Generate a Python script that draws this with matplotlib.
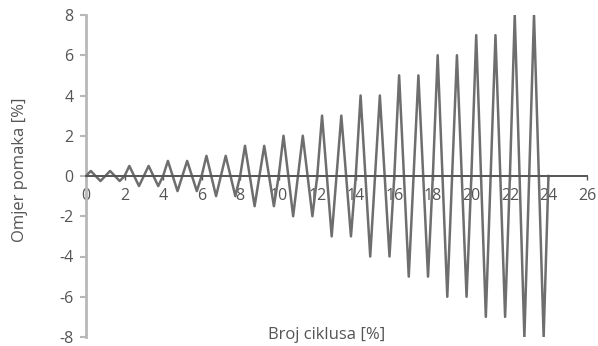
import numpy as np
import matplotlib.pyplot as plt

# amplitude of each loading cycle [%]
cycles = list(range(24))
amplitudes = [0.25, 0.25, 0.5, 0.5, 0.75, 0.75, 1, 1, 1.5, 1.5, 2, 2,
              3, 3, 4, 4, 5, 5, 6, 6, 7, 7, 8, 8]

# triangle wave: 0 -> +A -> -A -> 0 in each cycle
x = [0.0]
y = [0.0]
for c, a in zip(cycles, amplitudes):
    x += [c + 0.25, c + 0.75, c + 1.0]
    y += [a, -a, 0.0]

plt.rcParams['font.family'] = ['Open Sans', 'DejaVu Sans']
plt.rcParams['axes.unicode_minus'] = False
txt = '#555555'

fig = plt.figure(figsize=(5.98, 3.46), dpi=100)
ax = fig.add_axes([86/598, 1 - 337/346, 501/598, 322/346])

ax.plot(x, y, color='#6e6e6e', lw=1.8, zorder=3)

ax.set_xlim(0, 26)
ax.set_ylim(-8, 8)
ax.set_xticks(np.arange(0, 27, 2))
ax.set_yticks(np.arange(-8, 9, 2))

ax.spines['top'].set_visible(False)
ax.spines['right'].set_visible(False)
ax.spines['bottom'].set_position(('data', 0))
ax.spines['bottom'].set_color('#555555')
ax.spines['bottom'].set_linewidth(1.4)
ax.spines['bottom'].set_zorder(4)
ax.spines['left'].set_color('#b8b8b8')
ax.spines['left'].set_linewidth(2.0)

ax.tick_params(axis='y', colors='#b8b8b8', labelcolor=txt, labelsize=11.5,
               length=4, width=1.5, pad=5)
ax.tick_params(axis='x', colors='#555555', labelcolor=txt, labelsize=11.5,
               length=3, width=1, pad=6)
for lbl in ax.get_xticklabels():
    lbl.set_zorder(1)

fig.text(327/598, 1 - 335/346, 'Broj ciklusa [%]', ha='center', va='center',
         fontsize=12, color=txt)
fig.text(20/598, 1 - 170/346, 'Omjer pomaka [%]', ha='center', va='center',
         rotation=90, fontsize=12, color=txt)

fig.savefig('out.png', dpi=100)
